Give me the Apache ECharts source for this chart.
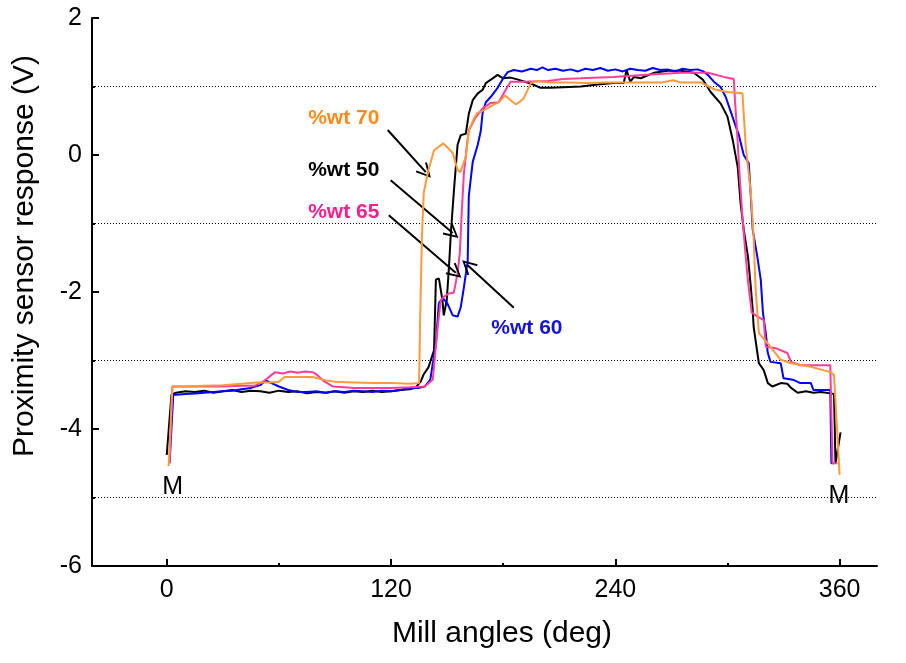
<!DOCTYPE html>
<html><head><meta charset="utf-8">
<script src="https://cdn.jsdelivr.net/npm/echarts@6/dist/echarts.min.js"></script>
<style>html,body{margin:0;padding:0;background:#fff}#c{width:906px;height:663px}</style>
</head><body><div id="c"></div>
<script>
// ---- data ----
const xTickValues = [0, 120, 240, 360];
const xMinorTickValues = [60, 180, 300];

const wt50Angles = [0, 2.5, 5, 10, 15, 20, 25, 30, 35, 40, 45, 50, 55, 60, 65, 70, 75, 80, 85, 90, 95, 100, 105, 110, 115, 120, 125, 130, 133, 136, 137.5, 140, 143, 144, 145.6, 147.5, 148.2, 149.8, 151, 152, 153.7, 155.6, 157.3, 160, 161.6, 163.7, 166.4, 169, 170.7, 173.4, 177, 180, 184, 188, 195, 200, 205.5, 212, 221.5, 230.6, 239, 244.5, 246, 248, 250, 253.6, 260.6, 268, 275, 282, 286.8, 291, 296.4, 300, 302.8, 305.5, 307, 308.7, 311, 312.5, 313.5, 314, 316.8, 319.4, 321.6, 324, 328.5, 332, 334, 337.6, 342, 346, 350, 355, 357, 357.8, 360.5];
const wt50Values = [-4.38, -3.5, -3.47, -3.45, -3.46, -3.44, -3.47, -3.45, -3.43, -3.46, -3.44, -3.45, -3.47, -3.44, -3.46, -3.45, -3.48, -3.46, -3.47, -3.45, -3.47, -3.45, -3.46, -3.44, -3.46, -3.45, -3.43, -3.42, -3.4, -3.3, -3.2, -3.1, -2.85, -1.82, -1.8, -2.12, -2.34, -2.12, -1.63, -1.14, -0.5, 0.15, 0.29, 0.31, 0.6, 0.8, 0.9, 0.95, 1.05, 1.1, 1.17, 1.12, 1.13, 1.1, 1.04, 0.98, 0.98, 0.99, 1.0, 1.03, 1.05, 1.05, 1.24, 1.07, 1.14, 1.12, 1.2, 1.23, 1.23, 1.2, 1.1, 0.92, 0.75, 0.56, 0.22, -0.18, -0.7, -1.09, -1.49, -1.93, -2.26, -2.51, -3.04, -3.14, -3.33, -3.38, -3.33, -3.34, -3.4, -3.47, -3.45, -3.47, -3.46, -3.48, -3.49, -4.5, -4.05];

const wt60Angles = [1.5, 3.5, 5, 10, 15, 20, 25, 30, 35, 40, 45, 50, 53, 56, 60, 65, 70, 75, 80, 85, 90, 95, 100, 105, 110, 115, 120, 125, 130, 135, 138, 141, 144, 145.6, 147.7, 150, 153, 155.6, 157.3, 159, 161, 161.6, 163.7, 166.4, 168, 169, 170.7, 173.4, 177, 180, 182.4, 185.7, 190, 194.8, 198, 201, 204, 208, 212, 216, 220, 224, 228, 232, 236, 240, 244, 248, 252, 256, 260, 264, 268, 272, 276, 280, 284, 287, 289.5, 292.7, 296.4, 299, 301.8, 304.4, 306, 308.7, 311.4, 312.5, 313.5, 316, 317.8, 319, 320.5, 321.5, 323, 328.5, 330, 335, 339, 344.6, 346, 355, 355.6, 357];
const wt60Values = [-4.5, -3.5, -3.5, -3.49, -3.48, -3.47, -3.46, -3.45, -3.44, -3.42, -3.4, -3.36, -3.29, -3.33, -3.38, -3.43, -3.46, -3.46, -3.45, -3.47, -3.45, -3.46, -3.44, -3.45, -3.46, -3.44, -3.45, -3.43, -3.4, -3.4, -3.38, -3.28, -2.75, -2.16, -2.09, -2.16, -2.34, -2.36, -2.22, -1.93, -1.55, -0.6, -0.1, 0.15, 0.35, 0.62, 0.77, 0.85, 0.98, 1.12, 1.21, 1.24, 1.22, 1.26, 1.24, 1.28, 1.24, 1.26, 1.23, 1.25, 1.22, 1.26, 1.24, 1.27, 1.23, 1.25, 1.22, 1.26, 1.24, 1.23, 1.27, 1.24, 1.25, 1.22, 1.26, 1.24, 1.25, 1.22, 1.17, 1.07, 0.99, 0.85, 0.63, 0.42, 0.3, 0.0, -0.12, -0.61, -1.09, -1.49, -1.82, -2.31, -2.6, -2.88, -3.02, -3.04, -3.26, -3.28, -3.33, -3.33, -3.43, -3.43, -4.5, -4.5];

const wt65Angles = [1.5, 3, 5, 10, 20, 30, 40, 47, 52, 58, 62, 66, 70, 74, 78, 80, 84, 89, 95, 100, 110, 120, 130, 138, 142.3, 145, 146.6, 148.2, 151, 153.6, 155.6, 156.8, 157.8, 159, 160.5, 161.6, 165.3, 169, 173.4, 177.6, 180.3, 182.4, 184, 191, 204, 212, 221.5, 239, 257, 275, 289.5, 292.7, 298, 303.4, 304, 305, 306.5, 308, 309.5, 311, 313, 316, 319.4, 320.5, 325.8, 332, 334, 339, 355, 356.2, 358.8];
const wt65Values = [-4.5, -3.38, -3.38, -3.38, -3.38, -3.38, -3.37, -3.37, -3.3, -3.17, -3.19, -3.16, -3.18, -3.16, -3.17, -3.2, -3.3, -3.38, -3.39, -3.4, -3.4, -3.4, -3.39, -3.38, -3.28, -2.5, -2.12, -2.07, -2.02, -2.01, -1.72, -1.43, -0.85, -0.26, 0.12, 0.36, 0.55, 0.68, 0.76, 0.77, 0.9, 1.0, 1.07, 1.07, 1.08, 1.11, 1.12, 1.14, 1.17, 1.2, 1.2, 1.18, 1.14, 1.11, 0.8, 0.4, -0.3, -0.9, -1.4, -1.85, -2.3, -2.36, -2.41, -2.8, -2.82, -2.89, -3.02, -3.07, -3.07, -4.5, -4.5];

const wt70Angles = [1, 3, 5, 10, 20, 30, 40, 48, 55, 60, 63, 70, 78, 85, 90, 100, 110, 120, 130, 135, 135.5, 136.5, 137.5, 140, 143, 148, 153, 155.6, 157, 160, 161.6, 164, 166, 170, 174, 178, 181, 184, 186.7, 189, 191, 194.8, 197.4, 205, 215, 225, 235, 245, 255, 265, 271, 275, 285.7, 290, 292.7, 300, 308, 309.8, 312.5, 314, 315, 316.8, 321.5, 328.5, 334, 344.6, 355, 357, 360];
const wt70Values = [-4.54, -3.38, -3.38, -3.38, -3.37, -3.36, -3.34, -3.32, -3.32, -3.31, -3.24, -3.24, -3.24, -3.29, -3.31, -3.32, -3.33, -3.33, -3.34, -3.33, -2.5, -1.2, -0.55, -0.22, 0.07, 0.17, 0.03, -0.22, -0.25, -0.03, 0.36, 0.51, 0.61, 0.66, 0.72, 0.78, 0.87, 0.8, 0.74, 0.78, 0.83, 1.05, 1.08, 1.06, 1.06, 1.05, 1.06, 1.06, 1.06, 1.06, 1.09, 1.06, 1.06, 1.0, 0.96, 0.92, 0.9, 0.12, -0.55, -1.2, -1.93, -2.6, -2.75, -2.99, -3.04, -3.09, -3.17, -3.21, -4.67];

const seriesNames = ['%wt 50', '%wt 60', '%wt 65', '%wt 70'];
const xTitle = 'Mill angles (deg)';
const yTitle = 'Proximity sensor response (V)';
// ---- end data ----

const FONT = 'Liberation Sans, Arial, sans-serif';
const colors = ['#000000', '#0000ff', '#ff3d9a', '#ff9a3c'];
const labelColors = ['#000000', '#1414d2', '#ff1f8a', '#ff8c1a'];
const zip = (a, b) => a.map((x, i) => [x, b[i]]);
const arrowHead = 'path://M6,0 L12,12 L10.6,12.8 L6,3.2 L1.4,12.8 L0,12 Z';

const dataSets = [zip(wt50Angles, wt50Values), zip(wt60Angles, wt60Values), zip(wt65Angles, wt65Values), zip(wt70Angles, wt70Values)];

const series = dataSets.map((d, i) => ({
  name: seriesNames[i], type: 'line', data: d, showSymbol: false, symbol: 'none',
  lineStyle: { color: colors[i], width: 2 }, z: 2 + i, silent: true
}));

function txt(coord, text, color, opts) {
  return Object.assign({
    coord: coord, symbol: 'circle', symbolSize: 1, itemStyle: { color: 'rgba(0,0,0,0)' },
    label: { show: true, formatter: text, color: color, fontFamily: FONT, fontSize: 21, fontWeight: 'bold', position: 'right', distance: 0 }
  }, opts || {});
}
const mLabel = { show: true, formatter: 'M', color: '#000', fontFamily: FONT, fontSize: 25, position: 'inside' };

series.push({
  type: 'scatter', data: [], silent: true, z: 10,
  markLine: {
    silent: true, animation: false, symbol: ['none', arrowHead], symbolSize: 15,
    lineStyle: { color: '#000', width: 2, type: 'solid' }, label: { show: false },
    data: [
      [{ coord: [118.2, 0.365] }, { coord: [138.6, -0.25] }],
      [{ coord: [119.8, -0.37] }, { coord: [153.0, -1.14] }],
      [{ coord: [118.8, -0.88] }, { coord: [154.6, -1.72] }],
      [{ coord: [185.7, -2.23] }, { coord: [161.0, -1.61] }]
    ]
  },
  markPoint: {
    silent: true, animation: false,
    data: [
      txt([75.4, 0.54], seriesNames[3], labelColors[3]),
      txt([75.4, -0.22], seriesNames[0], labelColors[0]),
      txt([75.4, -0.83], seriesNames[2], labelColors[2]),
      txt([173.4, -2.53], seriesNames[1], labelColors[1]),
      txt([3.2, -4.85], 'M', '#000', { label: mLabel }),
      txt([359.6, -4.98], 'M', '#000', { label: mLabel })
    ]
  }
});

const chart = echarts.init(document.getElementById('c'), null, { renderer: 'canvas' });
chart.setOption({
  animation: false,
  backgroundColor: '#fff',
  textStyle: { fontFamily: FONT },
  grid: { left: 92, right: 29, top: 18, bottom: 97, containLabel: false, outerBoundsMode: 'none' },
  xAxis: [
    {
      type: 'value', min: -40, max: 380, position: 'bottom',
      axisLine: { show: true, onZero: false, lineStyle: { color: '#000', width: 2 } },
      axisTick: { show: true, inside: true, length: 7, customValues: xTickValues, lineStyle: { color: '#000', width: 2 } },
      axisLabel: { customValues: xTickValues, fontSize: 25, color: '#000', margin: 12, fontFamily: FONT },
      splitLine: { show: false }
    },
    {
      type: 'value', min: -40, max: 380, position: 'bottom',
      axisLine: { show: false, onZero: false },
      axisTick: { show: true, inside: true, length: 3, customValues: xMinorTickValues, lineStyle: { color: '#000', width: 2 } },
      axisLabel: { show: false }, splitLine: { show: false }
    }
  ],
  yAxis: {
    type: 'value', min: -6, max: 2, interval: 2,
    axisLine: { show: true, onZero: false, lineStyle: { color: '#000', width: 2 } },
    axisTick: { show: true, inside: true, length: 7, lineStyle: { color: '#000', width: 2 } },
    minorTick: { show: true, splitNumber: 2, length: 3, lineStyle: { color: '#000', width: 2 } },
    minorSplitLine: { show: true, lineStyle: { color: '#000', width: 1, type: [1, 2] } },
    splitLine: { show: false },
    axisLabel: { fontSize: 25, color: '#000', margin: 10, fontFamily: FONT }
  },
  graphic: [
    { type: 'text', x: 502, y: 634, style: { text: xTitle, fontSize: 30, fontFamily: FONT, fill: '#000', align: 'center', verticalAlign: 'middle' } },
    { type: 'text', x: 25, y: 256, rotation: Math.PI / 2, style: { text: yTitle, fontSize: 30, fontFamily: FONT, fill: '#000', align: 'center', verticalAlign: 'middle' } }
  ],
  series: series
});
</script></body></html>
